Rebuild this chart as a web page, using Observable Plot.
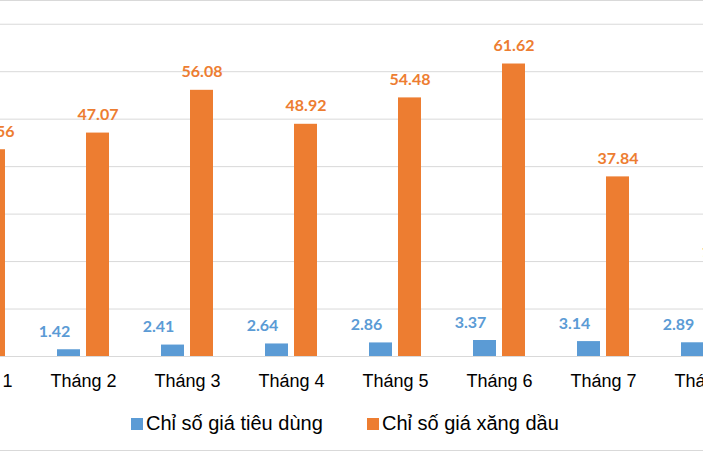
<!DOCTYPE html>
<html>
<head>
<meta charset="utf-8">
<script src="https://cdn.jsdelivr.net/npm/d3@7"></script>
<script src="https://cdn.jsdelivr.net/npm/@observablehq/plot@0.6"></script>
<style>
  html, body { margin: 0; padding: 0; background: #fff; overflow: hidden; }
  #wrap { position: relative; width: 703px; height: 451px; overflow: hidden; }
  #topline { position: absolute; left: 0; top: 0; width: 703px; height: 1px; background: #d9d9d9; }
  #chart { position: absolute; left: 0; top: 0; }
  #legend { position: absolute; left: 0; top: 400px; width: 703px; height: 50px; border-bottom: 1px solid #d9d9d9; font-family: "Liberation Sans", Arial, sans-serif; font-size: 20px; color: #000; }
  .item { position: absolute; top: 12px; display: flex; align-items: center; white-space: nowrap; }
  .sw { width: 12px; height: 12px; margin-right: 3px; }
</style>
</head>
<body>
<div id="wrap">
  <div id="chart"></div>
  <div id="topline"></div>
  <div id="legend"></div>
</div>
<script>
const months = ["Tháng 1", "Tháng 2", "Tháng 3", "Tháng 4", "Tháng 5", "Tháng 6", "Tháng 7", "Tháng 8"];
const cpi = [1.94, 1.42, 2.41, 2.64, 2.86, 3.37, 3.14, 2.89];
const petrol = [43.56, 47.07, 56.08, 48.92, 54.48, 61.62, 37.84, 18.12];
const seriesNames = ["Chỉ số giá tiêu dùng", "Chỉ số giá xăng dầu"];
const seriesColors = ["#5b9bd5", "#ed7d31"];
const gridTicks = [0, 10, 20, 30, 40, 50, 60, 70];

const data = months.map((m, i) => ({month: m, cpi: cpi[i], petrol: petrol[i]}));

const labelFont = "Lato, 'Open Sans', sans-serif";

const chart = Plot.plot({
  width: 703,
  height: 400,
  marginTop: 0,
  marginBottom: 44,
  marginLeft: 0,
  marginRight: 0,
  style: {color: "#000", background: "transparent", overflow: "hidden"},
  x: {domain: months, range: [-73, 759], padding: 0, label: null},
  y: {domain: [0, 75], axis: null},
  marks: [
    Plot.ruleY(gridTicks, {stroke: "#d9d9d9", strokeWidth: 1}),
    Plot.barY(data, {x: "month", y: "cpi", fill: seriesColors[0], insetLeft: 26, insetRight: 55}),
    Plot.barY(data, {x: "month", y: "petrol", fill: seriesColors[1], insetLeft: 55, insetRight: 26}),
    Plot.text(data, {x: "month", y: "cpi", text: d => d.cpi.toFixed(2), dx: -29, dy: -13, lineAnchor: "bottom",
      fill: seriesColors[0], fontWeight: "bold", fontSize: 16, fontFamily: labelFont}),
    Plot.text(data, {x: "month", y: "petrol", text: d => d.petrol.toFixed(2), dx: 14.5, dy: -13, lineAnchor: "bottom",
      fill: seriesColors[1], fontWeight: "bold", fontSize: 16, fontFamily: labelFont}),
    Plot.axisX({tickSize: 0, tickPadding: 18, fontSize: 18, fontFamily: "'Liberation Sans', Arial, sans-serif", fill: "#000", label: null})
  ]
});
document.getElementById("chart").appendChild(chart);

const legend = document.getElementById("legend");
const lefts = [131, 367];
seriesNames.forEach((name, i) => {
  const it = document.createElement("div");
  it.className = "item";
  it.style.left = lefts[i] + "px";
  const sw = document.createElement("span");
  sw.className = "sw";
  sw.style.background = seriesColors[i];
  const tx = document.createElement("span");
  tx.textContent = name;
  it.appendChild(sw);
  it.appendChild(tx);
  legend.appendChild(it);
});
</script>
</body>
</html>
